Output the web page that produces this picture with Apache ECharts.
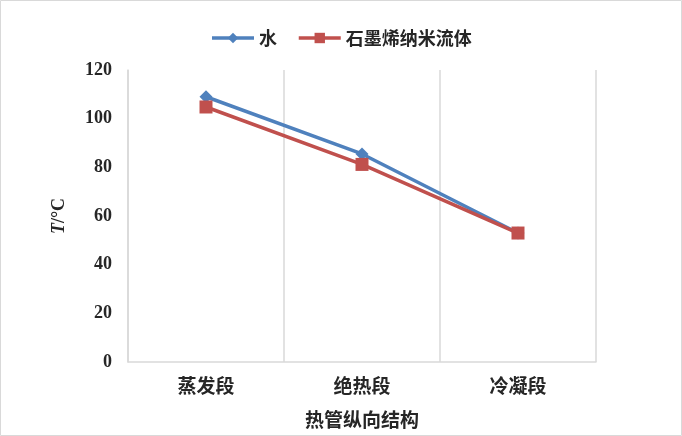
<!DOCTYPE html>
<html><head><meta charset="utf-8">
<script src="https://cdn.jsdelivr.net/npm/echarts@6/dist/echarts.min.js"></script>
<style>html,body{margin:0;padding:0;background:#fff}#c{width:682px;height:436px}</style>
</head><body><div id="c"></div>
<script>
var categories = ['蒸发段', '绝热段', '冷凝段'];
var waterValues = [109, 85.5, 53];
var grapheneValues = [104.8, 81.2, 53];
var seriesNames = ['水', '石墨烯纳米流体'];
var yTicks = {min: 0, max: 120, interval: 20};

var cjk = '"Noto Sans CJK SC", sans-serif';
var serif = '"Liberation Serif", "Times New Roman", serif';
var txt = '#262626';
var chart = echarts.init(document.getElementById('c'));
chart.setOption({
  animation: false,
  graphic: [{type: 'rect', shape: {x: 0.5, y: 0.5, width: 681, height: 435}, style: {fill: 'none', stroke: '#D9D9D9', lineWidth: 1}}],
  legend: {
    top: 24, left: 'center', itemWidth: 42, itemHeight: 13, itemGap: 20,
    lineStyle: {width: 3.5},
    textStyle: {fontFamily: cjk, fontSize: 18, color: txt, fontWeight: 'bold'},
    data: seriesNames
  },
  grid: {left: 128, right: 86, top: 70, bottom: 74},
  xAxis: {
    type: 'category', data: categories, boundaryGap: true,
    axisLine: {lineStyle: {color: '#D9D9D9', width: 1.5}},
    axisTick: {show: false},
    splitLine: {show: true, lineStyle: {color: '#D9D9D9', width: 1.5}},
    axisLabel: {fontFamily: cjk, fontSize: 19, color: txt, margin: 14, fontWeight: 'bold'},
    name: '热管纵向结构', nameLocation: 'middle', nameGap: 48,
    nameTextStyle: {fontFamily: cjk, fontSize: 19, color: txt, fontWeight: 'bold'}
  },
  yAxis: {
    type: 'value', min: yTicks.min, max: yTicks.max, interval: yTicks.interval,
    axisLine: {show: true, lineStyle: {color: '#D9D9D9', width: 1.5}},
    axisTick: {show: false},
    splitLine: {show: false},
    axisLabel: {fontFamily: serif, fontSize: 18, color: txt, margin: 16, fontWeight: 'bold'},
    name: '{i|T}/°C', nameLocation: 'middle', nameGap: 60, nameRotate: 90,
    nameTextStyle: {fontFamily: serif, fontSize: 18, color: txt, fontWeight: 'bold',
      rich: {i: {fontStyle: 'italic', fontFamily: serif, fontSize: 18, color: txt, fontWeight: 'bold'}}}
  },
  series: [
    {name: seriesNames[0], type: 'line', data: waterValues, symbol: 'diamond', symbolSize: 13,
     lineStyle: {color: '#4F81BD', width: 3.5}, itemStyle: {color: '#4F81BD'}},
    {name: seriesNames[1], type: 'line', data: grapheneValues, symbol: 'rect', symbolSize: 13,
     lineStyle: {color: '#C0504D', width: 3.5}, itemStyle: {color: '#C0504D'}}
  ]
});
</script></body></html>
